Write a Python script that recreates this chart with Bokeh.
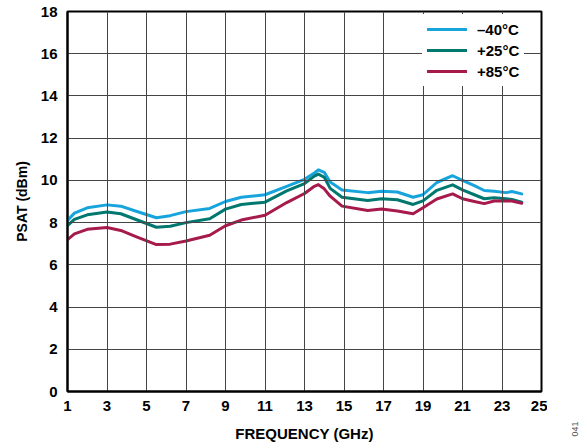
from bokeh.plotting import figure
from bokeh.layouts import row
from bokeh.models import Range1d, FixedTicker, Legend, LegendItem, ColumnDataSource
from bokeh.core.properties import value
from bokeh.embed import file_html
from bokeh.resources import INLINE

# ---- data ----
freq = [1, 1.35, 2, 3, 3.7, 4.4, 5.5, 6.2, 7, 8.2, 9, 9.8, 11, 12.1, 13, 13.5,
        13.7, 14, 14.3, 14.9, 16.2, 16.9, 17.7, 18.5, 19, 19.7, 20.5, 21, 21.6,
        22.1, 22.6, 23.2, 23.5, 24]
psat_m40 = [8.1, 8.45, 8.7, 8.84, 8.78, 8.56, 8.23, 8.33, 8.52, 8.67, 9.0, 9.2,
            9.32, 9.72, 10.05, 10.35, 10.5, 10.38, 9.92, 9.55, 9.42, 9.48, 9.45,
            9.2, 9.32, 9.9, 10.22, 10.0, 9.75, 9.52, 9.49, 9.42, 9.47, 9.36]
psat_p25 = [7.86, 8.15, 8.37, 8.5, 8.42, 8.17, 7.78, 7.83, 8.0, 8.18, 8.64, 8.86,
            8.97, 9.5, 9.85, 10.2, 10.3, 10.15, 9.62, 9.2, 9.05, 9.13, 9.08,
            8.86, 9.03, 9.53, 9.79, 9.55, 9.32, 9.13, 9.18, 9.13, 9.1, 8.97]
psat_p85 = [7.19, 7.47, 7.68, 7.77, 7.63, 7.36, 6.96, 6.98, 7.13, 7.4, 7.85, 8.12,
            8.35, 8.95, 9.38, 9.72, 9.8, 9.6, 9.25, 8.78, 8.57, 8.65, 8.55,
            8.42, 8.7, 9.12, 9.36, 9.13, 9.0, 8.9, 9.02, 9.02, 9.02, 8.92]
series_labels = ["\u201340\u00b0C", "+25\u00b0C", "+85\u00b0C"]
series_colors = ["#17a4dc", "#00786f", "#a61a4c"]
x_ticks = list(range(1, 26, 2))
y_ticks = list(range(0, 19, 2))
x_title = "FREQUENCY (GHz)"
y_title = "PSAT (dBm)"
fig_code = "041"

FONT = "Liberation Sans"
H = 448
RIGHT_W = 40
MAIN_W = 587 - RIGHT_W

# ---- main chart ----
p = figure(width=MAIN_W, height=H, x_range=Range1d(1, 25), y_range=Range1d(0, 18),
           output_backend="svg", toolbar_location=None,
           min_border_left=67, min_border_right=6, min_border_top=11,
           min_border_bottom=57)
p.background_fill_alpha = 0
p.border_fill_alpha = 0
p.outline_line_color = "black"
p.outline_line_width = 2

for ax, ticks in ((p.xaxis[0], x_ticks), (p.yaxis[0], y_ticks)):
    ax.ticker = FixedTicker(ticks=ticks)
    ax.major_label_text_font = FONT
    ax.major_label_text_font_style = "bold"
    ax.major_label_text_font_size = "15px"
    ax.major_label_text_color = "black"
    ax.major_tick_in = 0
    ax.major_tick_out = 0
    ax.minor_tick_in = 0
    ax.minor_tick_out = 0
    ax.axis_line_color = "black"
    ax.axis_line_width = 2
    ax.axis_label_text_font = FONT
    ax.axis_label_text_font_style = "bold"
    ax.axis_label_text_color = "black"
p.xaxis[0].major_label_standoff = 9
p.yaxis[0].major_label_standoff = 10
p.xaxis[0].axis_label = x_title
p.xaxis[0].axis_label_text_font_size = "15px"
p.xaxis[0].axis_label_standoff = 11
p.yaxis[0].axis_label = y_title
p.yaxis[0].axis_label_text_font_size = "14px"
p.yaxis[0].axis_label_standoff = 8

p.xgrid[0].ticker = FixedTicker(ticks=x_ticks)
p.ygrid[0].ticker = FixedTicker(ticks=y_ticks)
for g in (p.xgrid[0], p.ygrid[0]):
    g.grid_line_color = "#454545"
    g.grid_line_alpha = 1.0
    g.grid_line_width = 1
    g.level = "glyph"

series = [psat_m40, psat_p25, psat_p85]
renderers = []
for vals, col in zip(series, series_colors):
    r = p.line(freq, vals, line_color=col, line_width=3, line_join="round",
               line_cap="round")
    renderers.append(r)

legend = Legend(items=[LegendItem(label=lab, renderers=[r])
                       for lab, r in zip(series_labels, renderers)],
                location=(355, 305))
legend.label_text_font = FONT
legend.label_text_font_style = "bold"
legend.label_text_font_size = "15px"
legend.label_text_color = "black"
legend.glyph_width = 40
legend.glyph_height = 20
legend.label_height = 20
legend.label_standoff = 10
legend.padding = 5
legend.spacing = 1
legend.border_line_alpha = 0
legend.background_fill_color = "white"
legend.background_fill_alpha = 1
p.add_layout(legend)

# ---- right strip: figure code (coordinates = pixels) ----
rl = figure(width=RIGHT_W, height=H, x_range=Range1d(0, RIGHT_W),
            y_range=Range1d(0, H), output_backend="svg", toolbar_location=None,
            min_border=0, x_axis_type=None, y_axis_type=None)
if "frame_align" in rl.properties():
    rl.frame_align = False
rl.outline_line_color = None
rl.background_fill_color = "white"
rl.border_fill_color = "white"
rsrc = ColumnDataSource(dict(x=[27], y=[H - 436], text=[fig_code]))
rl.text(x="x", y="y", text="text", source=rsrc, angle=90, angle_units="deg",
        text_align="left", text_baseline="alphabetic", text_font=value(FONT),
        text_font_size="9px", text_color="#555555")

layout = row(p, rl)
open("out.html", "w").write(file_html(layout, INLINE))
